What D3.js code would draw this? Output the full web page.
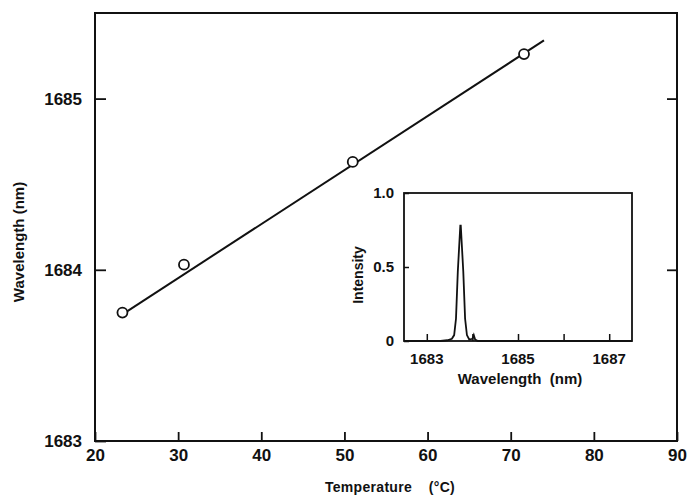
<!DOCTYPE html>
<html>
<head>
<meta charset="utf-8">
<script src="https://cdn.jsdelivr.net/npm/d3@7"></script>
<style>
  body { margin: 0; background: #fff; }
  text { font-family: "Liberation Sans", Arial, sans-serif; font-weight: bold; fill: #111; }
</style>
</head>
<body>
<div id="chart"></div>
<script>
// Measured points: temperature (C) vs lasing wavelength (nm)
var tempC = [23.3, 30.7, 51.0, 71.6];
var wavelength = [1683.75, 1684.03, 1684.63, 1685.26];
// Fitted line, drawn from first point to just past last point
var fitTemp = [23.3, 74];
var fitWl = [1683.74, 1685.34];

var xTicks = [20, 30, 40, 50, 60, 70, 80, 90];
var yTicks = [1683, 1684, 1685];
var yTickLabels = ["1683", "1684", "1685"];

// Inset spectrum
var specWl = [1682.5, 1683.3, 1683.45, 1683.55, 1683.6, 1683.64, 1683.68, 1683.735, 1683.745,
              1683.8, 1683.84, 1683.88, 1683.93, 1684.0, 1684.03, 1684.06, 1684.12, 1687.5];
var specI = [0, 0, 0.005, 0.015, 0.04, 0.15, 0.47, 0.78, 0.78,
             0.47, 0.15, 0.04, 0.01, 0.015, 0.04, 0.01, 0, 0];
var insetXTicks = [1683, 1684, 1685, 1686, 1687];
var insetXLabels = [1683, 1685, 1687];
var insetYTicks = [0, 0.5, 1.0];
var insetYLabels = ["0", "0.5", "1.0"];

var W = 692, H = 497;
var svg = d3.select('#chart').append('svg')
    .attr('width', W)
    .attr('height', H);

var box = { left: 95, right: 677, top: 13, bottom: 441 };

var x = d3.scaleLinear().domain([20, 90]).range([box.left, box.right]);
var y = d3.scaleLinear().domain([1683, 1685.5]).range([box.bottom, box.top]);

// frame
svg.append('rect')
    .attr('x', box.left).attr('y', box.top)
    .attr('width', box.right - box.left).attr('height', box.bottom - box.top)
    .attr('fill', 'none').attr('stroke', '#111').attr('stroke-width', 2);

// bottom ticks (inward)
svg.append('g')
    .attr('transform', 'translate(0,' + box.bottom + ')')
    .call(d3.axisBottom(x).tickValues(xTicks).tickSizeInner(-9).tickSizeOuter(0).tickPadding(8))
    .call(g => g.select('.domain').remove())
    .call(g => g.selectAll('line').attr('stroke', '#111').attr('stroke-width', 1.8))
    .call(g => g.selectAll('text').style('font-size', '17px').attr('fill', '#111'));

// left ticks
svg.append('g')
    .attr('transform', 'translate(' + box.left + ',0)')
    .call(d3.axisLeft(y).tickValues(yTicks).tickFormat((d, i) => yTickLabels[i])
        .tickSizeInner(-11).tickSizeOuter(0).tickPadding(13))
    .call(g => g.select('.domain').remove())
    .call(g => g.selectAll('line').attr('stroke', '#111').attr('stroke-width', 1.8))
    .call(g => g.selectAll('text').style('font-size', '17px').attr('fill', '#111'));

// right ticks
svg.append('g')
    .attr('transform', 'translate(' + box.right + ',0)')
    .call(d3.axisRight(y).tickValues(yTicks.slice(1)).tickFormat('').tickSizeInner(-10).tickSizeOuter(0))
    .call(g => g.select('.domain').remove())
    .call(g => g.selectAll('line').attr('stroke', '#111').attr('stroke-width', 1.8));

// axis titles
svg.append('text')
    .attr('x', 390).attr('y', 492)
    .attr('text-anchor', 'middle')
    .style('font-size', '14px')
    .style('letter-spacing', '0.3px')
    .text('Temperature\u00a0\u00a0\u00a0\u00a0(\u00b0C)');

svg.append('text')
    .attr('transform', 'translate(24,242) rotate(-90)')
    .attr('text-anchor', 'middle')
    .style('font-size', '15px')
    .text('Wavelength (nm)');

// fitted line
svg.append('line')
    .attr('x1', x(fitTemp[0])).attr('y1', y(fitWl[0]))
    .attr('x2', x(fitTemp[1])).attr('y2', y(fitWl[1]))
    .attr('stroke', '#111').attr('stroke-width', 2);

// points
svg.append('g').selectAll('circle')
    .data(tempC)
    .enter().append('circle')
    .attr('cx', d => x(d))
    .attr('cy', (d, i) => y(wavelength[i]))
    .attr('r', 5)
    .attr('fill', '#fff')
    .attr('stroke', '#111')
    .attr('stroke-width', 1.8);

// ---- inset ----
var ib = { left: 404, right: 632, top: 193, bottom: 341 };
var ix = d3.scaleLinear().domain([1682.5, 1687.5]).range([ib.left, ib.right]);
var iy = d3.scaleLinear().domain([0, 1]).range([ib.bottom, ib.top]);

var inset = svg.append('g');

inset.append('rect')
    .attr('x', ib.left).attr('y', ib.top)
    .attr('width', ib.right - ib.left).attr('height', ib.bottom - ib.top)
    .attr('fill', '#fff').attr('stroke', '#111').attr('stroke-width', 1.8);

inset.append('g')
    .attr('transform', 'translate(0,' + ib.bottom + ')')
    .call(d3.axisBottom(ix).tickValues(insetXTicks).tickSizeInner(-7).tickSizeOuter(0).tickFormat(''))
    .call(g => g.select('.domain').remove())
    .call(g => g.selectAll('line').attr('stroke', '#111').attr('stroke-width', 1.5));

inset.append('g').selectAll('text')
    .data(insetXLabels)
    .enter().append('text')
    .attr('x', d => ix(d))
    .attr('y', 364)
    .attr('text-anchor', 'middle')
    .style('font-size', '15px')
    .text(d => d);

inset.append('g')
    .attr('transform', 'translate(' + ib.left + ',0)')
    .call(d3.axisLeft(iy).tickValues(insetYTicks).tickFormat((d, i) => insetYLabels[i])
        .tickSizeInner(-5).tickSizeOuter(0).tickPadding(10))
    .call(g => g.select('.domain').remove())
    .call(g => g.selectAll('line').attr('stroke', '#111').attr('stroke-width', 1.5))
    .call(g => g.selectAll('text').style('font-size', '15px').attr('fill', '#111'));

inset.append('text')
    .attr('x', 520).attr('y', 384)
    .attr('text-anchor', 'middle')
    .style('font-size', '15px')
    .text('Wavelength\u00a0\u00a0(nm)');

inset.append('text')
    .attr('transform', 'translate(363,275) rotate(-90)')
    .attr('text-anchor', 'middle')
    .style('font-size', '14px')
    .text('Intensity');

var specLine = d3.line()
    .x((d, i) => ix(specWl[i]))
    .y(d => iy(d));

inset.append('path')
    .datum(specI)
    .attr('d', specLine)
    .attr('fill', 'none')
    .attr('stroke', '#111')
    .attr('stroke-width', 1.8);
</script>
</body>
</html>
